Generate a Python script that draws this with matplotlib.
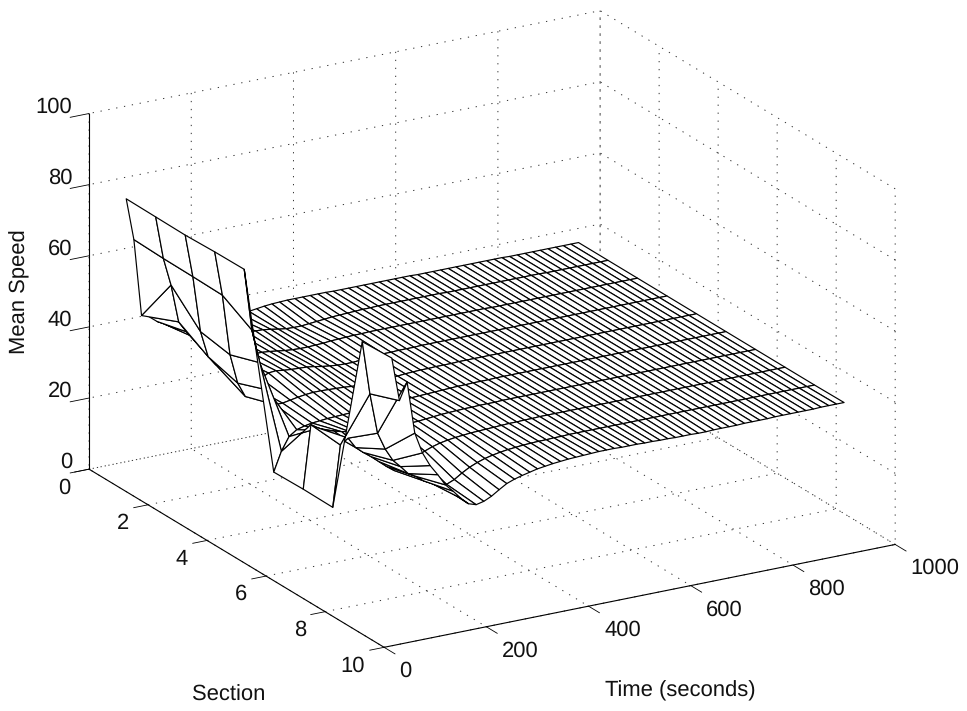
import numpy as np
import matplotlib
matplotlib.use('Agg')
import matplotlib.pyplot as plt
from mpl_toolkits.mplot3d import proj3d

plt.rcParams['font.family'] = ['Liberation Sans', 'DejaVu Sans']
plt.rcParams['text.hinting'] = 'none'
plt.rcParams['text.hinting_factor'] = 1

sections = [1, 2, 3, 4, 5, 6, 7, 8, 9, 10]
time_step_values = [15 * k for k in range(1, 61)]
section_ticks = [0, 2, 4, 6, 8, 10]
time_ticks = [0, 200, 400, 600, 800, 1000]
speed_ticks = [0, 20, 40, 60, 80, 100]

s1 = [80.6,68.7,46.9,46.1,44.4,43.2,41.9,40.7,40.3,40.2,
      40.3,40.5,40.8,41.1,41.4,41.7,42.0,42.3,42.6,42.8,
      42.9,43.0,43.0,43.0,43.0,43.0,43.0,42.9,42.9,42.9,
      42.9,42.9,42.9,42.9,42.9,42.9,42.9,42.9,42.8,42.8,
      42.8,42.8,42.8,42.8,42.8,42.8,42.8,42.8,42.8,42.8,
      42.7,42.7,42.7,42.7,42.7,42.7,42.7,42.7,42.7,42.7]
s2 = [80.5,68.4,60.5,49.7,46.5,44.5,43.5,43.0,42.8,42.7,
      42.7,42.7,42.8,42.8,42.7,42.4,42.0,41.7,41.6,41.6,
      41.8,42.0,42.2,42.4,42.5,42.6,42.7,42.8,42.8,42.9,
      42.9,42.9,42.9,42.9,42.9,42.9,42.9,42.9,42.8,42.8,
      42.8,42.8,42.8,42.8,42.8,42.8,42.8,42.8,42.8,42.8,
      42.8,42.7,42.7,42.7,42.7,42.7,42.7,42.7,42.7,42.7]
s3 = [80.4,68.3,52.4,44.9,42.2,42.0,42.2,42.6,42.9,43.1,
      43.1,42.9,42.6,42.3,42.1,42.0,42.0,42.1,42.2,42.4,
      42.5,42.6,42.7,42.7,42.8,42.8,42.8,42.8,42.8,42.8,
      42.8,42.8,42.8,42.8,42.8,42.8,42.8,42.8,42.8,42.8,
      42.7,42.7,42.7,42.7,42.7,42.7,42.7,42.7,42.7,42.7,
      42.7,42.7,42.7,42.7,42.7,42.7,42.7,42.7,42.7,42.7]
s4 = [80.7,68.1,50.9,42.5,38.3,40.5,42.5,43.6,43.8,43.5,
      43.3,43.2,43.1,42.8,42.4,42.1,41.9,41.8,41.8,42.0,
      42.2,42.4,42.5,42.5,42.6,42.6,42.6,42.7,42.7,42.7,
      42.7,42.7,42.7,42.7,42.7,42.7,42.7,42.7,42.7,42.7,
      42.7,42.7,42.7,42.7,42.7,42.7,42.7,42.7,42.7,42.7,
      42.7,42.7,42.7,42.7,42.7,42.7,42.7,42.7,42.7,42.7]
s5 = [80.8,63.3,53.7,45.6,41.0,41.0,41.4,41.8,42.1,42.3,
      42.3,42.2,42.1,42.0,41.8,41.7,41.7,41.7,41.8,42.0,
      42.1,42.3,42.4,42.5,42.5,42.6,42.6,42.6,42.7,42.7,
      42.7,42.7,42.7,42.7,42.7,42.7,42.7,42.7,42.7,42.7,
      42.7,42.7,42.7,42.7,42.7,42.7,42.7,42.7,42.7,42.7,
      42.7,42.7,42.7,42.7,42.7,42.7,42.7,42.7,42.7,42.7]
s6 = [28.8,34.2,37.9,39.4,40.0,40.4,40.6,40.8,40.9,41.0,
      41.1,41.2,41.3,41.4,41.5,41.6,41.7,41.8,41.9,42.0,
      42.1,42.2,42.3,42.4,42.5,42.5,42.6,42.6,42.6,42.7,
      42.7,42.7,42.7,42.7,42.7,42.7,42.7,42.7,42.7,42.7,
      42.7,42.7,42.7,42.7,42.7,42.7,42.7,42.7,42.7,42.7,
      42.7,42.7,42.7,42.7,42.7,42.7,42.7,42.7,42.7,42.7]
s7 = [29.0,46.7,45.3,44.2,43.6,43.0,42.6,42.2,41.9,41.6,
      41.4,41.3,41.3,41.4,41.5,41.6,41.8,42.0,42.2,42.3,
      42.4,42.5,42.5,42.6,42.6,42.6,42.7,42.7,42.7,42.7,
      42.7,42.7,42.7,42.7,42.7,42.7,42.7,42.7,42.7,42.7,
      42.7,42.7,42.7,42.7,42.7,42.7,42.7,42.7,42.7,42.7,
      42.7,42.7,42.7,42.7,42.7,42.7,42.7,42.7,42.7,42.7]
s8 = [28.9,46.0,47.5,44.4,42.6,41.0,39.2,37.4,35.8,36.5,
      37.5,38.5,39.5,40.3,40.9,41.3,41.6,41.8,42.0,42.1,
      42.2,42.3,42.4,42.5,42.5,42.6,42.6,42.7,42.7,42.7,
      42.7,42.7,42.7,42.7,42.7,42.7,42.7,42.7,42.7,42.7,
      42.7,42.7,42.7,42.7,42.7,42.7,42.7,42.7,42.7,42.7,
      42.7,42.7,42.7,42.7,42.7,42.7,42.7,42.7,42.7,42.7]
s9 = [80.5,65.4,53.9,49.0,45.4,43.2,40.8,39.6,37.9,36.8,
      36.0,35.6,36.5,37.9,39.1,40.0,40.7,41.2,41.6,41.9,
      42.1,42.3,42.4,42.5,42.5,42.6,42.6,42.7,42.7,42.7,
      42.7,42.7,42.7,42.7,42.7,42.7,42.7,42.7,42.7,42.7,
      42.7,42.7,42.7,42.7,42.7,42.7,42.7,42.7,42.7,42.7,
      42.7,42.7,42.7,42.7,42.7,42.7,42.7,42.7,42.7,42.7]
s10 = [80.9,68.5,73.3,58.5,52.5,48.5,45.5,42.2,40.0,37.6,
       35.6,34.9,35.4,36.4,37.8,39.1,39.9,40.5,41.0,41.5,
       41.8,42.1,42.3,42.5,42.6,42.7,42.8,42.9,42.9,42.9,
       42.8,42.8,42.8,42.7,42.7,42.6,42.6,42.5,42.5,42.5,
       42.4,42.4,42.5,42.5,42.5,42.5,42.6,42.6,42.6,42.6,
       42.7,42.7,42.7,42.7,42.7,42.7,42.8,42.8,42.8,42.8]

speed = np.array([s1, s2, s3, s4, s5, s6, s7, s8, s9, s10])

W, H = 967, 711
fig = plt.figure(figsize=(W / 100, H / 100), dpi=100)
S_PX = 890.0
cx, cy = 492.1, 329.0
left = cx - 0.5135 * S_PX
bottom_from_top = cy + 0.5135 * S_PX
ax = fig.add_axes([left / W, (H - bottom_from_top) / H, S_PX / W, S_PX / H], projection='3d')
ax.set_proj_type('ortho')
ax.view_init(elev=20.4, azim=-30)
ax.set_box_aspect((591, 591, 380), zoom=1)
ax.patch.set_alpha(0)

T, S = np.meshgrid(time_step_values, sections)
ax.plot_surface(S, T, speed, rstride=1, cstride=1, color='white', edgecolor='black',
                linewidth=0.85, shade=False, antialiased=True)

ax.set_xlim(0, 10)
ax.set_ylim(0, 1000)
ax.set_zlim(0, 100)
ax.set_xticks(section_ticks)
ax.set_yticks(time_ticks)
ax.set_zticks(speed_ticks)
ax.set_xticklabels([])
ax.set_yticklabels([])
ax.set_zticklabels([])
ax.zaxis.set_ticks_position('lower')

outs = {'x': 0.35, 'y': 0.46, 'z': 0.46}
for name, axis in (('x', ax.xaxis), ('y', ax.yaxis), ('z', ax.zaxis)):
    axis.set_pane_color((1, 1, 1, 0))
    axis.pane.set_edgecolor((1, 1, 1, 0))
    axis.line.set_linewidth(0.8)
    axis.line.set_color('black')
    axis._axinfo['grid'].update(color='#303030', linewidth=0.7, linestyle=(0, (1.3, 6.9)))
    axis._axinfo['tick'].update(inward_factor=outs[name], outward_factor=0.0)
    axis._axinfo['tick']['linewidth'] = {True: 0.6, False: 0.6}

FS = 16.2
M = ax.get_proj()
def label(txt, xyz, dx, dy, ha):
    X, Y, _ = proj3d.proj_transform(xyz[0], xyz[1], xyz[2], M)
    ax.annotate(txt, (X, Y), xycoords='data', xytext=(dx * 0.72, -dy * 0.72),
                textcoords='offset points', ha=ha, va='center', fontsize=FS,
                color='#111111', annotation_clip=False)

for v in section_ticks:
    label(str(v), (v, 0, 0), -19, 18.5, 'right')
for v in time_ticks:
    label(str(v), (10, v, 0), 15.5, 24, 'left')
for v in speed_ticks:
    label(str(v), (0, 0, v), -16.6, -6.8, 'right')

fig.text(229 / W, 1 - 700.7 / H, 'Section', ha='center', va='baseline', fontsize=FS, color='#111111')
fig.text(680 / W, 1 - 696.7 / H, 'Time (seconds)', ha='center', va='baseline', fontsize=FS, color='#111111')
fig.text(20 / W, 1 - 292 / H, 'Mean Speed', ha='center', va='center', rotation=90, fontsize=FS, color='#111111')

fig.savefig('out.png', dpi=100, facecolor='white')
